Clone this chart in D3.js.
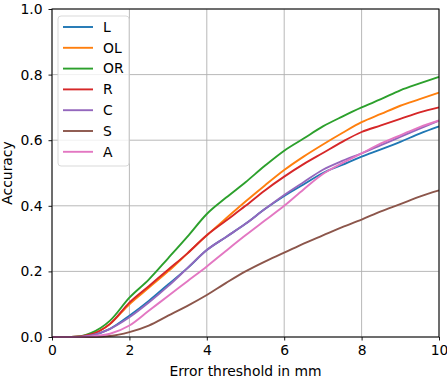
<!DOCTYPE html>
<html>
<head>
<meta charset="utf-8">
<script src="https://cdn.jsdelivr.net/npm/d3@7"></script>
<style>
  body { margin: 0; background: #fff; }
  text { font-family: "DejaVu Sans", sans-serif; fill: #000; }
  .grid line { stroke: #b0b0b0; stroke-width: 0.9; }
</style>
</head>
<body>
<div id="graphic"></div>
<script>
// thresholds in mm
const thresholds = [0, 0.5, 1, 1.5, 2, 2.5, 3, 3.5, 4, 4.5, 5, 5.5, 6, 6.5, 7, 7.5, 8, 8.5, 9, 9.5, 10];

const seriesNames = ["L", "OL", "OR", "R", "C", "S", "A"];
const seriesColors = ["#1f77b4", "#ff7f0e", "#2ca02c", "#d62728", "#9467bd", "#8c564b", "#e377c2"];

const accL  = [0, 0, 0.005, 0.025, 0.065, 0.11, 0.16, 0.21, 0.265, 0.305, 0.345, 0.39, 0.43, 0.465, 0.50, 0.525, 0.55, 0.572, 0.595, 0.62, 0.642];
const accOL = [0, 0, 0.008, 0.04, 0.10, 0.15, 0.20, 0.255, 0.31, 0.362, 0.413, 0.462, 0.509, 0.55, 0.587, 0.622, 0.655, 0.68, 0.705, 0.725, 0.745];
const accOR = [0, 0, 0.012, 0.05, 0.12, 0.175, 0.24, 0.306, 0.375, 0.425, 0.472, 0.522, 0.568, 0.605, 0.642, 0.672, 0.70, 0.725, 0.752, 0.773, 0.793];
const accR  = [0, 0, 0.008, 0.04, 0.105, 0.155, 0.205, 0.255, 0.31, 0.355, 0.40, 0.447, 0.489, 0.527, 0.561, 0.595, 0.625, 0.645, 0.665, 0.685, 0.70];
const accC  = [0, 0, 0.005, 0.025, 0.06, 0.105, 0.155, 0.21, 0.265, 0.305, 0.345, 0.39, 0.433, 0.472, 0.51, 0.537, 0.56, 0.585, 0.61, 0.635, 0.66];
const accS  = [0, 0, 0, 0.003, 0.015, 0.035, 0.065, 0.095, 0.128, 0.165, 0.20, 0.23, 0.257, 0.285, 0.31, 0.335, 0.358, 0.383, 0.405, 0.428, 0.447];
const accA  = [0, 0, 0.002, 0.01, 0.035, 0.08, 0.125, 0.17, 0.215, 0.263, 0.31, 0.355, 0.40, 0.45, 0.497, 0.53, 0.56, 0.59, 0.615, 0.64, 0.66];

const xTicks = [0, 2, 4, 6, 8, 10];
const yTicks = [0, 0.2, 0.4, 0.6, 0.8, 1.0];

const seriesValues = [accL, accOL, accOR, accR, accC, accS, accA];

const outerWidth = 447, outerHeight = 380;
const margin = { left: 52, right: 8, top: 9, bottom: 43 };
const width = outerWidth - margin.left - margin.right;
const height = outerHeight - margin.top - margin.bottom;
const fontSize = "13.9px";

const svg = d3.select("#graphic").append("svg")
  .attr("width", outerWidth)
  .attr("height", outerHeight);

const plot = svg.append("g")
  .attr("transform", `translate(${margin.left}, ${margin.top})`);

const xScale = d3.scaleLinear().domain([0, 10]).range([0, width]);
const yScale = d3.scaleLinear().domain([0, 1]).range([height, 0]);

// grid lines
plot.append("g").attr("class", "grid")
  .selectAll("line").data(xTicks).enter().append("line")
  .attr("x1", d => xScale(d)).attr("x2", d => xScale(d))
  .attr("y1", 0).attr("y2", height);
plot.append("g").attr("class", "grid")
  .selectAll("line").data(yTicks).enter().append("line")
  .attr("x1", 0).attr("x2", width)
  .attr("y1", d => yScale(d)).attr("y2", d => yScale(d));

// lines
const line = d3.line()
  .x(d => xScale(d[0]))
  .y(d => yScale(d[1]))
  .curve(d3.curveMonotoneX);

seriesValues.forEach((vals, i) => {
  plot.append("path")
    .datum(thresholds.map((t, j) => [t, vals[j]]))
    .attr("fill", "none")
    .attr("stroke", seriesColors[i])
    .attr("stroke-width", 1.9)
    .attr("d", line);
});

// frame
plot.append("rect")
  .attr("width", width).attr("height", height)
  .attr("fill", "none").attr("stroke", "#000").attr("stroke-width", 1);

// axes
const xAxis = d3.axisBottom(xScale).tickValues(xTicks).tickSize(3.5).tickPadding(5).tickFormat(d3.format("d"));
const yAxis = d3.axisLeft(yScale).tickValues(yTicks).tickSize(3.5).tickPadding(6).tickFormat(d3.format(".1f"));

const gx = plot.append("g").attr("transform", `translate(0, ${height})`).call(xAxis);
const gy = plot.append("g").call(yAxis);
[gx, gy].forEach(g => {
  g.select(".domain").remove();
  g.selectAll(".tick line").attr("stroke", "#000").attr("stroke-width", 0.9);
  g.selectAll(".tick text").style("font-size", fontSize).style("font-family", "DejaVu Sans");
});

// axis labels
svg.append("text")
  .attr("x", margin.left + width / 2).attr("y", 376)
  .attr("text-anchor", "middle")
  .style("font-size", fontSize)
  .text("Error threshold in mm");

svg.append("text")
  .attr("transform", `translate(12, ${margin.top + height / 2}) rotate(-90)`)
  .attr("text-anchor", "middle")
  .style("font-size", fontSize)
  .text("Accuracy");

// legend
const legend = svg.append("g").attr("transform", "translate(58, 16)");
legend.append("rect")
  .attr("width", 71).attr("height", 150)
  .attr("rx", 3).attr("ry", 3)
  .attr("fill", "#fff").attr("fill-opacity", 0.8)
  .attr("stroke", "#d9d9d9").attr("stroke-width", 1);

const rows = legend.selectAll("g.row").data(seriesNames).enter().append("g")
  .attr("class", "row")
  .attr("transform", (d, i) => `translate(0, ${11 + i * 20.8})`);
rows.append("line")
  .attr("x1", 5).attr("x2", 35)
  .attr("stroke", (d, i) => seriesColors[i])
  .attr("stroke-width", 1.9);
rows.append("text")
  .attr("x", 45).attr("dy", "0.35em")
  .style("font-size", fontSize)
  .text(d => d);
</script>
</body>
</html>
